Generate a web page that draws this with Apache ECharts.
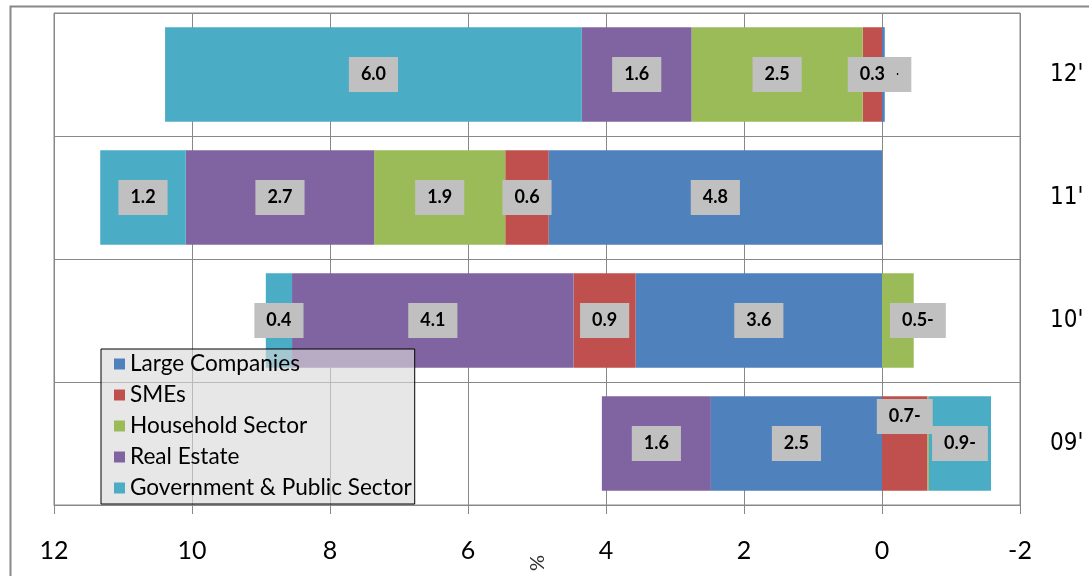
<!DOCTYPE html>
<html>
<head>
<meta charset="utf-8">
<script src="https://cdn.jsdelivr.net/npm/echarts@6/dist/echarts.min.js"></script>
<style>
html,body{margin:0;padding:0;background:#fff;}
#c{width:1089px;height:576px;}
</style>
</head>
<body>
<div id="c"></div>
<script>
// ---- data ----
const categories = ["09'", "10'", "11'", "12'"];
const seriesNames = ['Large Companies', 'SMEs', 'Household Sector', 'Real Estate', 'Government & Public Sector'];
const largeCompanies = [2.48, 3.57, 4.83, -0.04];
const smes = [-0.66, 0.90, 0.63, 0.28];
const household = [-0.02, -0.46, 1.90, 2.48];
const realEstate = [1.58, 4.08, 2.73, 1.59];
const government = [-0.90, 0.38, 1.24, 6.04];
const xTickValues = [-2, 0, 2, 4, 6, 8, 10, 12];

const seriesValues = [largeCompanies, smes, household, realEstate, government];
const colors = ['#4F81BD', '#C0504D', '#9BBB59', '#8064A2', '#4BACC6'];

// label tweaks (style only)
const labelOverrides = {
  '1-0': { offset: [0, -27] },   // SMEs 09'
  '2-0': { show: false },        // Household 09'
  '2-1': { offset: [20, 0] }     // Household 10'
};

function fmt(v) {
  return v < 0 ? Math.abs(v).toFixed(1) + '-' : v.toFixed(1);
}

const series = seriesNames.map((name, si) => ({
  name: name,
  type: 'bar',
  stack: 'total',
  barCategoryGap: '23%',
  itemStyle: { color: colors[si] },
  emphasis: { disabled: true },
  label: {
    show: true,
    position: 'inside',
    formatter: p => fmt(p.value),
    color: '#000',
    fontFamily: 'Lato',
    fontWeight: 'bold',
    fontSize: 18,
    lineHeight: 18,
    backgroundColor: '#C0C0C0',
    padding: [9, 12, 8, 12],
    textBorderWidth: 0
  },
  data: seriesValues[si].map((v, ci) => {
    const o = labelOverrides[si + '-' + ci];
    return o ? { value: v, label: o } : v;
  })
}));

const chart = echarts.init(document.getElementById('c'), null, { renderer: 'canvas' });
chart.setOption({
  animation: false,
  backgroundColor: '#fff',
  color: colors,
  grid: {
    left: 54, right: 69, top: 13, bottom: 71,
    outerBoundsMode: 'none',
    containLabel: false,
    show: true, borderColor: '#888', borderWidth: 1, backgroundColor: 'transparent'
  },
  legend: {
    data: seriesNames,
    orient: 'vertical',
    left: 101,
    top: 349,
    icon: 'rect',
    itemWidth: 11,
    itemHeight: 11,
    itemGap: 7,
    padding: [3, 3, 4, 13],
    backgroundColor: 'rgba(217,217,217,0.62)',
    borderColor: '#000',
    borderWidth: 1,
    selectedMode: false,
    textStyle: { fontFamily: 'Lato', fontSize: 22.6, lineHeight: 24, color: '#000' }
  },
  xAxis: {
    type: 'value',
    inverse: true,
    min: xTickValues[0],
    max: xTickValues[xTickValues.length - 1],
    interval: xTickValues[1] - xTickValues[0],
    axisLine: { show: true, lineStyle: { color: '#888', width: 1 } },
    axisTick: { show: true, length: 9, lineStyle: { color: '#888' } },
    splitLine: { show: true, lineStyle: { color: '#888', width: 1 } },
    axisLabel: { color: '#000', fontFamily: 'Lato', fontSize: 25, margin: 33, showMinLabel: true, showMaxLabel: true }
  },
  yAxis: {
    type: 'category',
    data: categories,
    position: 'right',
    axisLine: { show: false },
    axisTick: { show: false },
    splitLine: { show: true, lineStyle: { color: '#888', width: 1 } },
    axisLabel: { color: '#000', fontFamily: "'Liberation Sans Narrow', 'DejaVu Sans Condensed', 'Liberation Sans', sans-serif", fontSize: 24, margin: 30 }
  },
  graphic: [
    {
      type: 'rect',
      shape: { x: 10.5, y: 6.5, width: 1200, height: 700 },
      style: { fill: 'none', stroke: '#888', lineWidth: 2 },
      silent: true
    },
    {
      type: 'text',
      x: 538, y: 563,
      rotation: Math.PI / 2,
      style: { text: '%', fontFamily: 'Lato', fontSize: 20, fill: '#333', align: 'center', verticalAlign: 'middle' },
      silent: true
    }
  ],
  series: series
});
</script>
</body>
</html>
